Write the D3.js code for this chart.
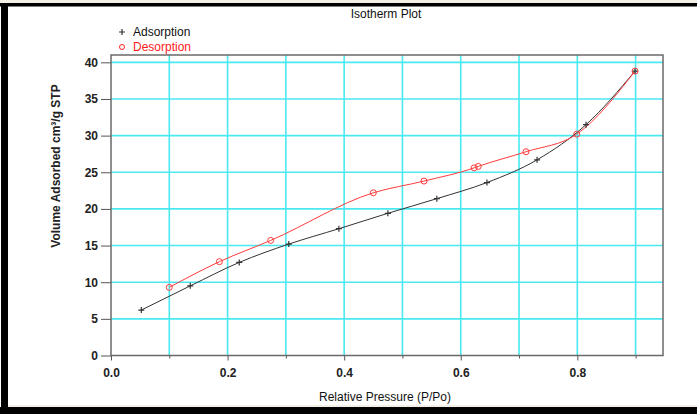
<!DOCTYPE html>
<html>
<head>
<meta charset="utf-8">
<script src="https://cdn.jsdelivr.net/npm/d3@7"></script>
<style>
  body { margin: 0; background: #fff; }
  svg { display: block; font-family: "Liberation Sans", Arial, sans-serif; }
  .tick text { font-size: 12px; font-weight: bold; fill: #222; }
</style>
</head>
<body>
<script>
// Isotherm plot data (relative pressure P/Po vs volume adsorbed)
const adsorptionP = [0.052, 0.136, 0.220, 0.305, 0.391, 0.475, 0.559, 0.645, 0.731, 0.815, 0.899];
const adsorptionV = [6.2, 9.5, 12.7, 15.2, 17.3, 19.4, 21.4, 23.6, 26.7, 31.5, 38.8];
const desorptionP = [0.100, 0.186, 0.274, 0.450, 0.537, 0.623, 0.630, 0.712, 0.799, 0.899];
const desorptionV = [9.3, 12.8, 15.7, 22.2, 23.8, 25.6, 25.8, 27.8, 30.2, 38.8];
const xTicks = [0, 0.2, 0.4, 0.6, 0.8];
const xMinorTicks = [0.1, 0.3, 0.5, 0.7, 0.9];
const yTicks = [0, 5, 10, 15, 20, 25, 30, 35, 40];

let svgWidth = 697;
let svgHeight = 414;
let margin = { top: 55, right: 34, bottom: 58.5, left: 111 };
let width = svgWidth - margin.left - margin.right;
let height = svgHeight - margin.top - margin.bottom;

let svg = d3.select("body").append("svg")
    .attr("width", svgWidth)
    .attr("height", svgHeight);

// frame around the picture
svg.append("rect").attr("x", 0).attr("y", 0).attr("width", svgWidth).attr("height", 3).attr("fill", "#f3efe6");
svg.append("rect").attr("x", 0).attr("y", 3).attr("width", svgWidth).attr("height", 3.5).attr("fill", "#000");
svg.append("rect").attr("x", 1).attr("y", 3).attr("width", 7).attr("height", svgHeight).attr("fill", "#000");
svg.append("rect").attr("x", 8).attr("y", 405).attr("width", svgWidth).attr("height", 2).attr("fill", "#f3efe6");
svg.append("rect").attr("x", 0).attr("y", 407).attr("width", svgWidth).attr("height", 7).attr("fill", "#000");

let chart = svg.append("g").attr("transform", `translate(${margin.left}, ${margin.top})`);

let xScale = d3.scaleLinear().domain([0, 0.947]).range([0, width]);
let yScale = d3.scaleLinear().domain([0, 41]).range([height, 0]);

// cyan grid
chart.selectAll(".gx").data(xTicks.slice(1).concat(xMinorTicks)).enter().append("line")
    .attr("x1", d => xScale(d)).attr("x2", d => xScale(d))
    .attr("y1", 0).attr("y2", height)
    .attr("stroke", "#4ae9f2").attr("stroke-width", 1.6);
chart.selectAll(".gy").data(yTicks.slice(1)).enter().append("line")
    .attr("x1", 0).attr("x2", width)
    .attr("y1", d => yScale(d)).attr("y2", d => yScale(d))
    .attr("stroke", "#4ae9f2").attr("stroke-width", 1.6);

// axes
let xAxis = chart.append("g")
    .attr("transform", `translate(0, ${height})`)
    .call(d3.axisBottom(xScale).tickValues(xTicks).tickFormat(d3.format(".1f")).tickSize(5).tickSizeOuter(0));
let xMinor = chart.append("g")
    .attr("transform", `translate(0, ${height})`)
    .call(d3.axisBottom(xScale).tickValues(xMinorTicks).tickFormat("").tickSize(3).tickSizeOuter(0));
let yAxis = chart.append("g")
    .call(d3.axisLeft(yScale).tickValues(yTicks).tickSize(10).tickSizeOuter(0));
[xAxis, xMinor, yAxis].forEach(a => {
    a.select(".domain").remove();
    a.selectAll(".tick line").attr("stroke", "#555");
});
xAxis.selectAll(".tick text").attr("dy", "1.15em");
yAxis.selectAll(".tick text").attr("x", -13);

// plot border
chart.append("rect")
    .attr("width", width).attr("height", height)
    .attr("fill", "none").attr("stroke", "#6a6a6a").attr("stroke-width", 1.5);

let ads = adsorptionP.map((p, i) => ({ p: p, v: adsorptionV[i] }));
let des = desorptionP.map((p, i) => ({ p: p, v: desorptionV[i] }));

let line = d3.line()
    .x(d => xScale(d.p))
    .y(d => yScale(d.v))
    .curve(d3.curveMonotoneX);

chart.append("path").datum(ads)
    .attr("d", line).attr("fill", "none")
    .attr("stroke", "#333").attr("stroke-width", 1);
chart.append("path").datum(des)
    .attr("d", line).attr("fill", "none")
    .attr("stroke", "#ff3b3b").attr("stroke-width", 1);

// adsorption markers (+)
chart.selectAll(".adsMark").data(ads).enter().append("path")
    .attr("transform", d => `translate(${xScale(d.p)}, ${yScale(d.v)})`)
    .attr("d", "M-3,0H3M0,-3V3")
    .attr("stroke", "#333").attr("stroke-width", 1.2);

// desorption markers (o)
chart.selectAll(".desMark").data(des).enter().append("circle")
    .attr("cx", d => xScale(d.p)).attr("cy", d => yScale(d.v))
    .attr("r", 3).attr("fill", "none")
    .attr("stroke", "#ff3b3b").attr("stroke-width", 1);

// title
svg.append("text").attr("x", 386).attr("y", 18)
    .attr("text-anchor", "middle").attr("font-size", 12).attr("fill", "#111")
    .text("Isotherm Plot");

// legend
svg.append("path").attr("d", "M119,32H125M122,29V35").attr("stroke", "#333").attr("stroke-width", 1.2);
svg.append("text").attr("x", 133).attr("y", 36).attr("font-size", 12).attr("fill", "#111").text("Adsorption");
svg.append("circle").attr("cx", 122).attr("cy", 47).attr("r", 2.5).attr("fill", "none").attr("stroke", "#ff2020");
svg.append("text").attr("x", 133).attr("y", 51).attr("font-size", 12).attr("fill", "#ff1a1a").text("Desorption");

// axis titles
svg.append("text").attr("x", 385).attr("y", 401)
    .attr("text-anchor", "middle").attr("font-size", 12).attr("fill", "#111")
    .text("Relative Pressure (P/Po)");
svg.append("text")
    .attr("transform", "translate(60, 166) rotate(-90)")
    .attr("text-anchor", "middle").attr("font-size", 12).attr("font-weight", "bold").attr("fill", "#222")
    .text("Volume Adsorbed cm³/g STP");
</script>
</body>
</html>
